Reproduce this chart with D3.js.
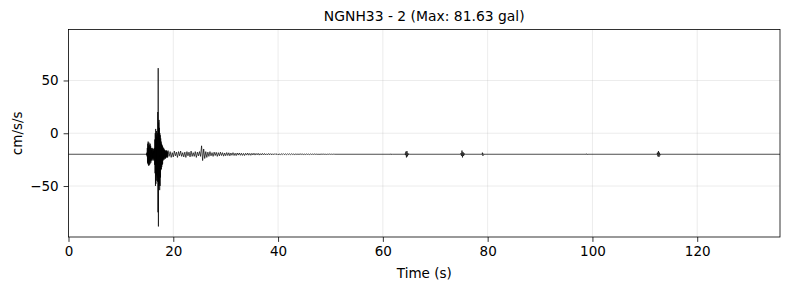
<!DOCTYPE html>
<html>
<head>
<meta charset="utf-8">
<script src="https://cdn.jsdelivr.net/npm/d3@7"></script>
<style>
  body { margin: 0; background: #fff; }
  svg text { font-family: "DejaVu Sans", sans-serif; fill: #000; }
</style>
</head>
<body>
<div id="chart"></div>
<script>
// Chart data
var stationTitle = "NGNH33 - 2 (Max: 81.63 gal)";
var timeDomain = [0, 135.8];
var accelDomain = [-98.3, 98.3];
var xTicks = [0, 20, 40, 60, 80, 100, 120];
var yTicks = [-50, 0, 50];
var dcOffset = -19.9; // trace sits below zero

// main burst, sampled every 0.04 s from 14.84 s (deviation from offset)
var burstStart = 14.84, burstStep = 0.04;
var burstValues = [
  0, 0.5, -0.8, 1.5, -2,
  6, -8, 10, -9, 12, -10, 8, -11, 11, -7, 9, -10, 7, -9, 10, -6, 8, -8, 5, -6,
  6, -5, 4, -6, 5, -4, 6, -5, 3, -4, 5, -6, 4, -5, 6,
  -10, 14, -18, 20, -30, 24, -28, 18, -20, 22, -25, 16, -22, 20, -26,
  40, -55, 81.6, -68.4, 30,
  -30, 32.5, -28, 25, -34, 20, -30, 18, -22, 15,
  -15, 12, -14, 10, -12, 9, -10, 8, -9, 7,
  -6, 5, -5, 6, -4, 5, -5, 4, -3, 4, -4, 3, -4, 3, -3, 4, -3, 3, -2, 3, -3, 2, -3, 2
];

// coda, sampled every 0.2 s from 19.0 s
var codaStart = 19.0, codaStep = 0.2;
var codaValues = [
  3.5, -2, 2.5, -3, 1.5, -2.5, 3, -1.5, 2, -3, 2.5, -1.5, 3, -2, 1.5, -2.5, 2, -3, 2.5, -1.5,
  2, -2.5, 3, -2, 1.5, -2, 2.5, -3, 2, -1.5, 2.5, -2,
  8, -6, 5, -4, 2.5, -3,
  2, -2, 2.5, -1.5, 1.5, -2, 2, -1.2, 1.8, -2, 1.5, -1.5, 2, -1.2, 1.5, -1.8, 1.2, -1.4, 1.6, -1.2,
  1.4, -1.5, 1.2, -1, 1.5, -1.2, 1, -1.3, 1.2, -0.8,
  1.2, -1, 1, -1.1, 0.8, -1.2, 0.9, -0.8, 1.1, -0.9, 0.8, -1, 0.9, -0.7, 1, -0.8,
  0.8, -0.6, 0.9, -0.8, 0.6, -0.7, 0.8, -0.6, 0.7, -0.7, 0.5, -0.6, 0.7, -0.5, 0.6, -0.6,
  0.5, -0.5, 0.6, -0.4, 0.5, -0.5, 0.4, -0.5, 0.5, -0.4, 0.6, -0.4, 0.4, -0.5, 0.5, -0.3,
  0.4, -0.4, 0.5, -0.3, 0.3, -0.4, 0.4, -0.3, 0.3, -0.3, 0.4, -0.2, 0.3, -0.3, 0.2, -0.3,
  0.3, -0.2, 0.2, -0.3, 0.3, -0.2, 0.2, -0.2, 0.3, -0.2, 0.2, -0.2, 0.1, -0.2, 0.2, -0.1,
  0.2, -0.1, 0.1, -0.2, 0.1, -0.1, 0.2, -0.1, 0.1, -0.1, 0.1, 0
];

// small later arrivals, sampled every 0.1 s
var blipStep = 0.1;
var blipStarts = [61.5, 64.2, 74.9, 79.0, 98.9, 112.4];
var blipValues = [
  [0.4, -0.4, 0.3, 0],
  [0.5, -0.8, 2.5, -3, 3, -2, 1, -0.5, 0.3, 0],
  [1, -1.5, 3.5, -3, 2, -1.5, 1, -0.5, 0],
  [1.5, -1.5, 0.5, 0],
  [0.5, -0.5, 0],
  [1.5, -2, 3, -2.5, 1.5, -1, 0]
];

// build one time series out of the pieces
var trace = [[0, 0]];
burstValues.forEach((v, i) => trace.push([burstStart + i * burstStep, v]));
codaValues.forEach((v, i) => trace.push([codaStart + i * codaStep, v]));
blipStarts.forEach((t0, k) => {
  trace.push([t0 - 0.05, 0]);
  blipValues[k].forEach((v, i) => trace.push([t0 + i * blipStep, v]));
});
trace.push([timeDomain[1], 0]);
trace.sort((a, b) => a[0] - b[0]);

var svgWidth = 790, svgHeight = 290;
var margin = { top: 29.5, right: 10, bottom: 53, left: 68.5 };
var chartWidth = svgWidth - margin.left - margin.right;
var chartHeight = svgHeight - margin.top - margin.bottom;

var svg = d3.select("#chart").append("svg")
  .attr("width", svgWidth)
  .attr("height", svgHeight);

var chartGroup = svg.append("g")
  .attr("transform", `translate(${margin.left}, ${margin.top})`);

var xScale = d3.scaleLinear().domain(timeDomain).range([0, chartWidth]);
var yScale = d3.scaleLinear().domain(accelDomain).range([chartHeight, 0]);

// grid
chartGroup.append("g")
  .selectAll("line").data(xTicks).join("line")
  .attr("x1", d => xScale(d)).attr("x2", d => xScale(d))
  .attr("y1", 0).attr("y2", chartHeight)
  .attr("stroke", "#b0b0b0").attr("stroke-opacity", 0.3).attr("stroke-width", 0.8);
chartGroup.append("g")
  .selectAll("line").data(yTicks).join("line")
  .attr("y1", d => yScale(d)).attr("y2", d => yScale(d))
  .attr("x1", 0).attr("x2", chartWidth)
  .attr("stroke", "#b0b0b0").attr("stroke-opacity", 0.3).attr("stroke-width", 0.8);

// waveform
var line = d3.line()
  .x(d => xScale(d[0]))
  .y(d => yScale(dcOffset + d[1]));

chartGroup.append("path")
  .datum(trace)
  .attr("d", line)
  .attr("fill", "none")
  .attr("stroke", "#000")
  .attr("stroke-width", 0.7);

// frame
chartGroup.append("rect")
  .attr("width", chartWidth).attr("height", chartHeight)
  .attr("fill", "none").attr("stroke", "#000").attr("stroke-width", 0.8);

// axes
var bottomAxis = d3.axisBottom(xScale).tickValues(xTicks).tickSize(4.9).tickPadding(4.9)
  .tickFormat(d3.format("d"));
var leftAxis = d3.axisLeft(yScale).tickValues(yTicks).tickSize(4.9).tickPadding(4.9)
  .tickFormat(d => d < 0 ? "\u2212" + Math.abs(d) : d);

var xAxis = chartGroup.append("g")
  .attr("transform", `translate(0, ${chartHeight})`)
  .call(bottomAxis);
var yAxis = chartGroup.append("g").call(leftAxis);

[xAxis, yAxis].forEach(g => {
  g.select(".domain").remove();
  g.selectAll(".tick line").attr("stroke", "#000").attr("stroke-width", 0.8);
  g.selectAll(".tick text").attr("font-size", "13.5px").attr("font-family", "DejaVu Sans");
});

// labels
svg.append("text")
  .attr("x", margin.left + chartWidth / 2)
  .attr("y", 20.5)
  .attr("text-anchor", "middle")
  .attr("font-size", "13.9px")
  .text(stationTitle);

svg.append("text")
  .attr("x", margin.left + chartWidth / 2)
  .attr("y", 277.5)
  .attr("text-anchor", "middle")
  .attr("font-size", "13.5px")
  .text("Time (s)");

svg.append("text")
  .attr("transform", `translate(22, ${margin.top + chartHeight / 2}) rotate(-90)`)
  .attr("text-anchor", "middle")
  .attr("font-size", "13.5px")
  .text("cm/s/s");
</script>
</body>
</html>
